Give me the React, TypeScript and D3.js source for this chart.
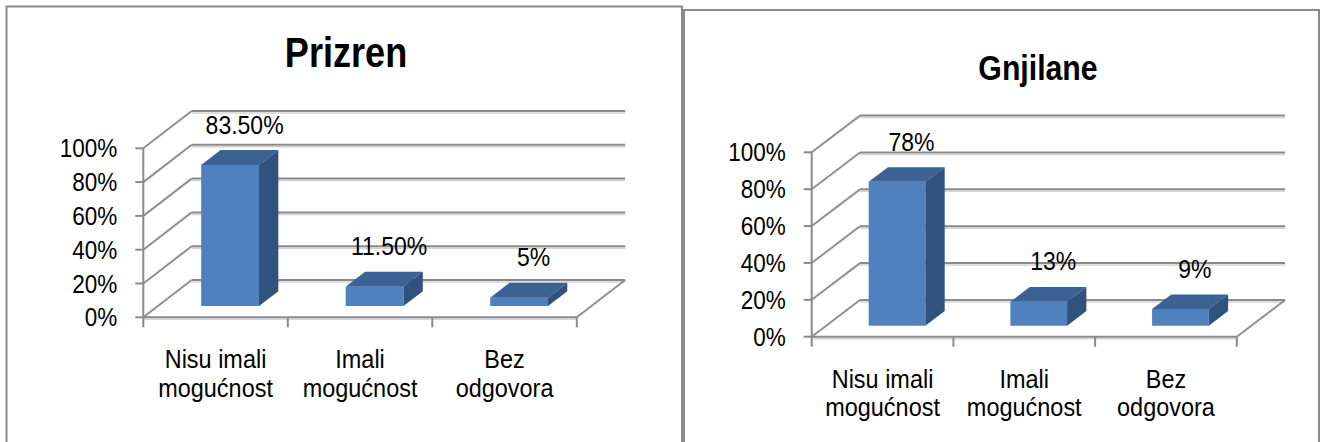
import React, { useEffect } from "react";
import * as d3 from "d3";

const categories: string[][] = [
  ["Nisu imali", "mogućnost"],
  ["Imali", "mogućnost"],
  ["Bez", "odgovora"],
];
const prizrenValues = [83.5, 11.5, 5];
const prizrenLabels = ["83.50%", "11.50%", "5%"];
const gnjilaneValues = [78, 13, 9];
const gnjilaneLabels = ["78%", "13%", "9%"];
const yTicks = [0, 20, 40, 60, 80, 100];

const FONT = "'Liberation Sans', Arial, sans-serif";
const GRID = "#8a8a8a";
const WALL = "#8e8e9c";
const FRONT = "#4f81bd";
const TOP = "#3b6293";
const SIDE = "#30527f";

type ChartProps = {
  title: string;
  titleX: number;
  titleY: number;
  titleSize: number;
  x0: number;
  catW: number;
  yFloor: number;
  yTop: number;
  DX: number;
  DY: number;
  values: number[];
  labels: string[];
};

function Chart(p: ChartProps) {
  const n = categories.length;
  const idx = categories.map((_, i) => String(i));
  const xBand = d3
    .scaleBand<string>()
    .domain(idx)
    .range([p.x0, p.x0 + n * p.catW])
    .paddingInner(0.6)
    .paddingOuter(0.3);
  const xCat = d3
    .scaleBand<string>()
    .domain(idx)
    .range([p.x0, p.x0 + n * p.catW]);
  const y = d3.scaleLinear().domain([0, 100]).range([p.yFloor, p.yTop]);
  const xEnd = p.x0 + n * p.catW;
  const d0 = 0.3;
  const d1 = 0.7;
  const pt = (x: number, yy: number, d: number) =>
    `${x + d * p.DX},${yy + d * p.DY}`;

  return (
    <g>
      <text
        transform={`translate(${p.titleX},${p.titleY}) scale(0.84,1)`}
        textAnchor="middle"
        fontFamily={FONT}
        fontWeight="bold"
        fontSize={p.titleSize}
        fill="#000"
      >
        {p.title}
      </text>
      {/* back gridlines */}
      {yTicks.map((t) => (
        <g key={"g" + t}>
          <line
            x1={p.x0 + p.DX}
            x2={xEnd + p.DX}
            y1={y(t) + p.DY + 2}
            y2={y(t) + p.DY + 2}
            stroke="#d4d4d4"
            strokeWidth={1.5}
          />
          <line
            x1={p.x0 + p.DX}
            x2={xEnd + p.DX}
            y1={y(t) + p.DY}
            y2={y(t) + p.DY}
            stroke={GRID}
            strokeWidth={2}
          />
          <line
            x1={p.x0}
            y1={y(t)}
            x2={p.x0 + p.DX}
            y2={y(t) + p.DY}
            stroke={WALL}
            strokeWidth={2}
          />
        </g>
      ))}
      {/* floor front and right edge */}
      <line x1={p.x0} x2={xEnd} y1={p.yFloor + 2} y2={p.yFloor + 2} stroke="#d4d4d4" strokeWidth={1.5} />
      <line x1={p.x0} x2={xEnd} y1={p.yFloor} y2={p.yFloor} stroke={GRID} strokeWidth={2} />
      <line x1={xEnd} y1={p.yFloor} x2={xEnd + p.DX} y2={p.yFloor + p.DY} stroke={WALL} strokeWidth={2} />
      {/* y axis */}
      <line x1={p.x0} x2={p.x0} y1={p.yFloor} y2={y(100)} stroke={GRID} strokeWidth={2} />
      {yTicks.map((t) => (
        <g key={"t" + t}>
          <line x1={p.x0 - 8} x2={p.x0} y1={y(t)} y2={y(t)} stroke={GRID} strokeWidth={2} />
          <text
            transform={`translate(${p.x0 - 26},${y(t) + 9}) scale(0.9,1)`}
            textAnchor="end"
            fontFamily={FONT}
            fontSize={25}
            fill="#000"
          >
            {t + "%"}
          </text>
        </g>
      ))}
      {/* x ticks */}
      {d3.range(n + 1).map((i) => (
        <line
          key={"xt" + i}
          x1={p.x0 + i * p.catW}
          x2={p.x0 + i * p.catW}
          y1={p.yFloor}
          y2={p.yFloor + 10}
          stroke={GRID}
          strokeWidth={2}
        />
      ))}
      {/* bars */}
      {p.values.map((v, i) => {
        const xl = xBand(String(i))!;
        const xr = xl + xBand.bandwidth();
        const yb = y(0);
        const yt = y(v);
        return (
          <g key={"b" + i}>
            <polygon
              points={[pt(xl, yb, d0), pt(xr, yb, d0), pt(xr, yt, d0), pt(xl, yt, d0)].join(" ")}
              fill={FRONT}
            />
            <polygon
              points={[pt(xl, yt, d0), pt(xr, yt, d0), pt(xr, yt, d1), pt(xl, yt, d1)].join(" ")}
              fill={TOP}
            />
            <polygon
              points={[pt(xr, yb, d0), pt(xr, yb, d1), pt(xr, yt, d1), pt(xr, yt, d0)].join(" ")}
              fill={SIDE}
            />
          </g>
        );
      })}
      {/* data labels */}
      {p.values.map((v, i) => {
        const cx = xCat(String(i))! + xCat.bandwidth() / 2 + 0.6 * p.DX;
        const cy = y(v) + 0.5 * p.DY - 24;
        return (
          <text
            key={"l" + i}
            transform={`translate(${cx},${cy}) scale(0.92,1)`}
            textAnchor="middle"
            fontFamily={FONT}
            fontSize={25}
            fill="#000"
          >
            {p.labels[i]}
          </text>
        );
      })}
      {/* category labels */}
      {categories.map((lines, i) => {
        const cx = xCat(String(i))! + xCat.bandwidth() / 2;
        return lines.map((ln, k) => (
          <text
            key={"c" + i + "-" + k}
            transform={`translate(${cx},${p.yFloor + 51 + k * 28.5}) scale(0.92,1)`}
            textAnchor="middle"
            fontFamily={FONT}
            fontSize={25.5}
            fill="#000"
          >
            {ln}
          </text>
        ));
      })}
    </g>
  );
}

export default function App() {
  useEffect(() => {
    document.body.style.margin = "0";
  }, []);
  return (
    <svg width={1323} height={442} style={{ display: "block", background: "#fff" }}>
      <rect x={0} y={0} width={1323} height={442} fill="#fff" />
      <rect x={6.5} y={6.5} width={675.5} height={500} fill="none" stroke="#8a8a8a" strokeWidth={2} />
      <rect x={684} y={10} width={635} height={500} fill="none" stroke="#8a8a8a" strokeWidth={2} />
      <Chart
        title="Prizren"
        titleX={346}
        titleY={66.7}
        titleSize={43}
        x0={143.3}
        catW={144.5}
        yFloor={317.3}
        yTop={148.3}
        DX={48.4}
        DY={-37.3}
        values={prizrenValues}
        labels={prizrenLabels}
      />
      <Chart
        title="Gnjilane"
        titleX={1038}
        titleY={79.5}
        titleSize={36}
        x0={811.7}
        catW={141.7}
        yFloor={336.7}
        yTop={152.3}
        DX={48.3}
        DY={-36.7}
        values={gnjilaneValues}
        labels={gnjilaneLabels}
      />
    </svg>
  );
}
